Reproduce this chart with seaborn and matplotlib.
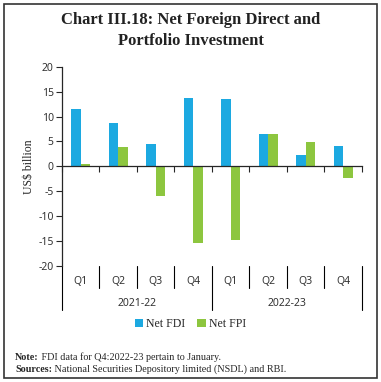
import matplotlib
matplotlib.use("Agg")
import matplotlib.pyplot as plt
import matplotlib.transforms as mtransforms
from matplotlib.patches import Rectangle
import pandas as pd
import seaborn as sns

# Data (US$ billion)
years = ["2021-22", "2022-23"]
quarters = ["Q1", "Q2", "Q3", "Q4"]
net_fdi = [11.6, 8.7, 4.5, 13.8, 13.6, 6.4, 2.3, 4.1]
net_fpi = [0.4, 3.8, -5.9, -15.3, -14.7, 6.4, 4.8, -2.3]

periods = [y + " " + q for y in years for q in quarters]
df = pd.DataFrame({
    "period": periods * 2,
    "series": ["Net FDI"] * len(periods) + ["Net FPI"] * len(periods),
    "value": net_fdi + net_fpi,
})

sns.set_style("white")
serif = ["Liberation Serif", "DejaVu Serif"]
sans = ["Noto Sans", "DejaVu Sans"]

fig = plt.figure(figsize=(3.81, 3.82), dpi=100)
ax = fig.add_axes([0.1627, 0.3037, 0.7873, 0.5217])

sns.barplot(data=df, x="period", y="value", hue="series", order=periods,
            palette=["#1CA9E1", "#8DC63F"], width=0.5, linewidth=0,
            saturation=1, ax=ax)

handles, labels = ax.get_legend_handles_labels()
ax.get_legend().remove()

ax.set_ylim(-20, 20)
ax.set_xlim(-0.5, 7.5)
ax.set_yticks(range(-20, 25, 5))
ax.set_yticklabels([str(v) for v in range(-20, 25, 5)], family=sans, fontsize=7.5,
                   color="#333333")
ax.set_ylabel("US$ billion", family=serif, fontsize=8.5, labelpad=2)
ax.set_xlabel("")

for s in ["top", "right"]:
    ax.spines[s].set_visible(False)
ax.spines["left"].set_linewidth(0.9)
ax.spines["bottom"].set_position(("data", 0))
ax.spines["bottom"].set_linewidth(0.9)
ax.spines["bottom"].set_zorder(5)

# small ticks on the zero line between groups
ax.set_xticks([i + 0.5 for i in range(-1, 8)])
ax.set_xticklabels([])
ax.tick_params(axis="x", direction="out", length=4, width=0.8, bottom=True)
ax.tick_params(axis="y", direction="out", length=4, width=0.8, left=True, pad=2)

# category axis below the plot
trans = mtransforms.blended_transform_factory(ax.transData, ax.transAxes)
for i, p in enumerate(periods):
    ax.text(i, -0.08, p.split()[1], transform=trans, ha="center", va="center",
            family=sans, fontsize=7.5, color="#333333")
for b in range(0, 9):
    x = b - 0.5
    low = -0.22 if b % 4 == 0 else -0.11
    ax.plot([x, x], [0, low], transform=trans, color="black", lw=0.8, clip_on=False)
for j, y in enumerate(years):
    ax.text(j * 4 + 1.5, -0.186, y, transform=trans, ha="center", va="center",
            family=sans, fontsize=7.5, color="#333333")

fig.legend(handles, labels, loc="center", bbox_to_anchor=(0.5, 1 - 324 / 382),
           ncol=2, frameon=False, handlelength=0.7, handleheight=0.7,
           handletextpad=0.3, columnspacing=1.0, prop={"family": serif, "size": 8.5})

fig.text(0.5, 1 - 20 / 382, "Chart III.18: Net Foreign Direct and", ha="center",
         va="center", family=serif, fontsize=12, fontweight="bold", color="#222222")
fig.text(0.5, 1 - 41 / 382, "Portfolio Investment", ha="center",
         va="center", family=serif, fontsize=12, fontweight="bold", color="#222222")

# notes
n1 = fig.text(15 / 381, 1 - 357 / 382, "Note:", ha="left", va="center",
              family=serif, fontsize=7.3, fontweight="bold")
ax.annotate(" FDI data for Q4:2022-23 pertain to January.", xy=(1, 0.5),
            xycoords=n1, va="center", ha="left", family=serif, fontsize=7.3,
            annotation_clip=False)
n2 = fig.text(15 / 381, 1 - 369 / 382, "Sources:", ha="left", va="center",
              family=serif, fontsize=7.3, fontweight="bold")
ax.annotate(" National Securities Depository limited (NSDL) and RBI.", xy=(1, 0.5),
            xycoords=n2, va="center", ha="left", family=serif, fontsize=7.3,
            annotation_clip=False)

fig.patches.append(Rectangle((4 / 381, 4 / 382), 373 / 381, 374 / 382,
                             transform=fig.transFigure, fill=False,
                             edgecolor="#333333", linewidth=1.2))

fig.savefig("out.png", dpi=100)
